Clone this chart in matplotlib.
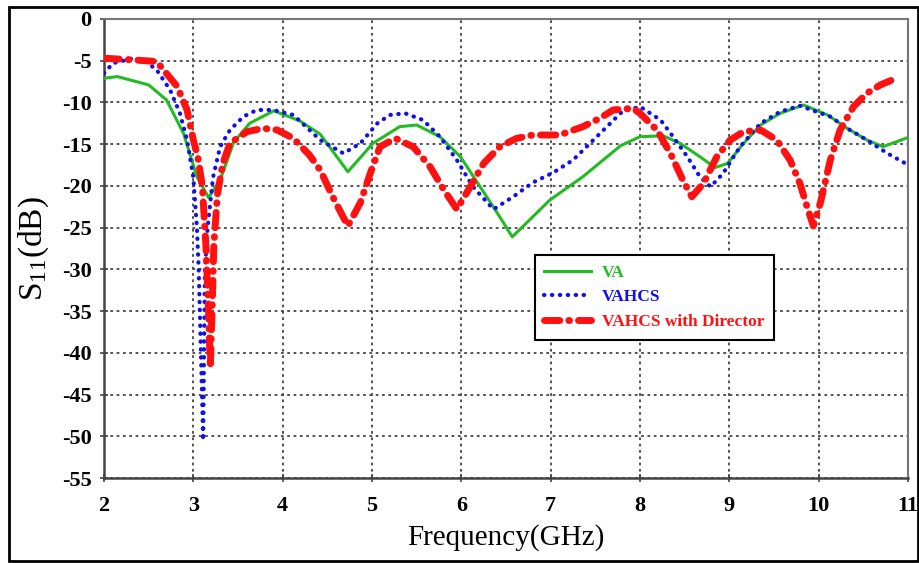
import matplotlib
matplotlib.use('Agg')
import matplotlib.pyplot as plt
from matplotlib.patches import Rectangle

plt.rcParams['font.family'] = ['Liberation Serif', 'DejaVu Serif']
plt.rcParams['mathtext.default'] = 'regular'

# VA (solid green)
va_f = [2.0, 2.15, 2.5, 2.7, 2.89, 3.04, 3.17, 3.3, 3.45, 3.63, 3.9, 4.19, 4.42,
        4.73, 5.01, 5.31, 5.5, 5.76, 5.99, 6.21, 6.4, 6.57, 6.8, 6.99, 7.36,
        7.78, 8.0, 8.26, 8.45, 8.67, 8.84, 8.98, 9.16, 9.35, 9.57, 9.83, 10.1,
        10.32, 10.54, 10.72, 11.0]
va_s = [-7.1, -6.9, -7.9, -9.7, -13.7, -18.9, -21.4, -19.3, -14.8, -12.5, -11.0, -12.2, -13.8,
        -18.3, -14.9, -12.9, -12.7, -14.1, -16.5, -20.1, -23.2, -26.1, -23.7, -21.7, -18.9,
        -15.2, -14.1, -14.0, -14.9, -16.5, -17.8, -17.3, -14.9, -12.7, -11.3, -10.3, -11.5,
        -13.1, -14.5, -15.3, -14.2]

# VAHCS (blue dotted)
vahcs_f = [2.0, 2.1, 2.33, 2.44, 2.59, 2.74, 2.85, 2.93, 3.0, 3.04, 3.06, 3.085, 3.11,
           3.12, 3.13, 3.16, 3.22, 3.3, 3.41, 3.56, 3.71, 3.89, 4.12, 4.42, 4.68, 4.87,
           5.06, 5.2, 5.37, 5.57, 5.76, 5.95, 6.13, 6.36, 6.58, 6.8, 7.03, 7.25, 7.44,
           7.63, 7.8, 8.0, 8.23, 8.37, 8.53, 8.67, 8.79, 8.93, 9.12, 9.35, 9.57, 9.79,
           10.13, 10.35, 10.54, 10.77, 10.97]
vahcs_s = [-6.5, -5.3, -4.7, -4.9, -6.1, -8.5, -11.3, -14.5, -19.0, -25.0, -30.0, -40.0, -50.5,
           -40.0, -30.0, -25.0, -19.0, -15.3, -13.3, -11.7, -10.9, -10.9, -11.5, -14.5, -16.1, -14.9,
           -12.5, -11.5, -11.3, -12.1, -14.1, -16.9, -20.1, -22.8, -21.3, -19.6, -18.4, -16.9, -14.9,
           -12.9, -11.1, -10.5, -12.1, -14.1, -16.5, -18.9, -20.1, -18.5, -15.3, -12.5, -11.1, -10.4,
           -11.7, -13.3, -14.5, -16.1, -17.3]

# VAHCS with Director (red dash-dot)
dir_f = [2.0, 2.33, 2.59, 2.82, 2.93, 3.0, 3.05, 3.1, 3.14, 3.17, 3.19, 3.21, 3.23, 3.27,
         3.33, 3.41, 3.6, 3.78, 3.94, 4.12, 4.3, 4.42, 4.56, 4.73, 4.87, 4.98, 5.09, 5.26,
         5.46, 5.65, 5.8, 5.95, 6.1, 6.25, 6.43, 6.62, 6.8, 7.1, 7.36, 7.55, 7.7, 7.92,
         8.0, 8.19, 8.34, 8.48, 8.58, 8.71, 8.86, 9.01, 9.16, 9.35, 9.53, 9.68, 9.79, 9.87,
         9.94, 10.02, 10.13, 10.24, 10.39, 10.54, 10.69, 10.89]
dir_s = [-4.7, -4.9, -5.1, -8.1, -10.9, -14.5, -16.5, -20.0, -27.0, -35.0, -41.8, -35.0, -27.0, -21.0,
         -17.3, -14.9, -13.5, -13.1, -13.3, -14.3, -16.3, -18.1, -21.3, -24.8, -22.0, -18.5, -15.3, -14.3,
         -15.3, -17.7, -20.4, -22.8, -20.1, -17.3, -15.3, -14.3, -13.9, -13.9, -12.9, -11.9, -10.9, -10.7,
         -11.3, -13.3, -16.1, -19.3, -21.3, -19.7, -16.5, -14.5, -13.5, -13.3, -14.5, -16.9, -19.7, -22.5,
         -24.8, -22.0, -16.9, -13.3, -10.5, -8.9, -7.9, -7.0]

x_ticks = [2, 3, 4, 5, 6, 7, 8, 9, 10, 11]
y_ticks = [0, -5, -10, -15, -20, -25, -30, -35, -40, -45, -50, -55]

fig = plt.figure(figsize=(9.2, 5.63), dpi=100)
ax = fig.add_axes([104 / 920, 1 - 478 / 563, 804 / 920, 459 / 563])

# outer frame around whole picture
fig.patches.append(Rectangle((9 / 920, 2 / 563), 909 / 920, 554 / 563,
                             transform=fig.transFigure, fill=False,
                             edgecolor='black', linewidth=2))

ax.plot(va_f, va_s, color='#22bb22', linewidth=2.2, label='VA', zorder=3)
ax.plot(vahcs_f, vahcs_s, color='#1010ee', linewidth=3, linestyle=(0, (0.1, 1.8)),
        dash_capstyle='round', label='VAHCS', zorder=4)
ax.plot(dir_f, dir_s, color='#ff1111', linewidth=5, linestyle=(0, (2.2, 1.3, 0.1, 1.3)),
        dash_capstyle='round', label='VAHCS with Director', zorder=5)

ax.set_xlim(2, 11)
ax.set_ylim(-55, 0)
ax.set_xticks(x_ticks)
ax.set_yticks(y_ticks)
ax.set_xticklabels([str(t) for t in x_ticks], fontweight='bold', fontsize=16)
ax.set_yticklabels([str(t) for t in y_ticks], fontweight='bold', fontsize=16)
ax.tick_params(direction='inout', length=6, width=1.2, color='#444444', pad=6)
ax.tick_params(axis='x', pad=10)

ax.grid(True, color='#444444', linestyle=(0, (1.5, 2)), linewidth=1.3)
for side in ['left', 'bottom']:
    ax.spines[side].set_color('#444444')
    ax.spines[side].set_linewidth(1.8)
for side in ['top', 'right']:
    ax.spines[side].set_color('#777777')
    ax.spines[side].set_linewidth(1.5)

ax.set_xlabel('Frequency(GHz)', fontsize=21, labelpad=6)
ax.set_ylabel('S$_{11}$(dB)', fontsize=24, labelpad=8)

leg = ax.legend(loc='upper left', bbox_to_anchor=(0.536, 0.486), borderaxespad=0,
                fancybox=False, framealpha=1, edgecolor='black', handlelength=2.7,
                handletextpad=0.6, prop={'weight': 'bold', 'size': 12.5},
                borderpad=0.55, labelspacing=0.5)
leg.get_frame().set_linewidth(1.5)
for txt, c in zip(leg.get_texts(), ['#22bb22', '#1010ee', '#ff1111']):
    txt.set_color(c)

fig.savefig('out.png', dpi=100)
